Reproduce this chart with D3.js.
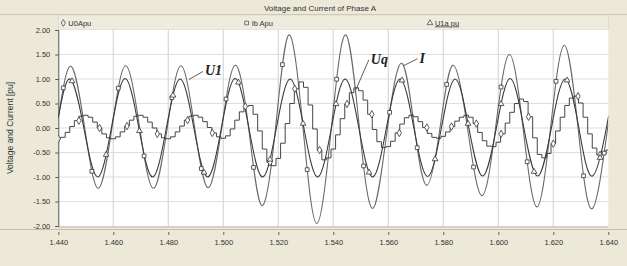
<!DOCTYPE html>
<html><head><meta charset="utf-8">
<script src="https://cdn.jsdelivr.net/npm/d3@7"></script>
<style>
html,body{margin:0;padding:0;background:#ECE9D8;}
svg{display:block;font-family:"Liberation Sans",Arial,sans-serif;}
</style></head>
<body>
<svg id="c" width="627" height="266"></svg>
<script>
// ---------------- data ----------------
const chartTitle = "Voltage and Current of Phase A";
const yAxisTitle = "Voltage and Current [pu]";
const legendLabels = ["U0Apu", "Ib Apu", "U1a pu"];
const legendSymbols = ["diamond", "square", "triangle"];
const xTickValues = [1.44,1.46,1.48,1.50,1.52,1.54,1.56,1.58,1.60,1.62,1.64];
const yTickValues = [2,1.5,1,0.5,0,-0.5,-1,-1.5,-2];

// I (Ib Apu) : time / value at extrema and zero crossings
const iTimes = [1.4400,1.4446,1.4496,1.4545,1.4595,1.4645,1.4696,1.4746,1.4796,1.4846,1.4896,1.4945,1.4994,1.5043,1.5092,1.5140,1.5190,1.5239,1.5290,1.5340,1.5393,1.5445,1.5495,1.5544,1.5597,1.5649,1.5695,1.5740,1.5788,1.5835,1.5888,1.5940,1.5990,1.6040,1.6090,1.6140,1.6190,1.6240,1.6290,1.6340,1.6400];
const iValues = [0.20,1.26,0,-1.23,0,1.27,0,-1.23,0,1.27,0,-1.22,0,1.28,0,-1.58,0,1.90,0,-1.95,0,1.90,0,-1.64,0,1.32,0,-1.17,0,1.28,0,-1.38,0,1.50,0,-1.61,0,1.69,0,-1.65,0.10];

// U1 (U1a pu)
const u1Times = [1.4400,1.4443,1.4493,1.4543,1.4593,1.4643,1.4693,1.4743,1.4793,1.4843,1.4893,1.4943,1.4993,1.5043,1.5093,1.5143,1.5193,1.5243,1.5293,1.5343,1.5393,1.5443,1.5493,1.5543,1.5593,1.5643,1.5693,1.5743,1.5793,1.5843,1.5893,1.5943,1.5993,1.6043,1.6093,1.6143,1.6193,1.6243,1.6293,1.6343,1.6393,1.6400];
const u1Values = [0.22,1.00,0,-1.00,0,1.01,0,-1.00,0,1.00,0,-1.00,0,1.01,0,-1.00,0,1.00,0,-1.00,0,1.00,0,-1.00,0,1.00,0,-0.99,0,1.00,0,-0.98,0,1.01,0,-0.98,0,1.00,0,-0.98,0,0.22];

// Uq (U0Apu) : stepped samples, one every 1/600 s from 1.44 s
const uqStart = 1.44;
const uqStep = 1/600;
const uqValues = [
 -0.22,-0.19,-0.09,0.03,0.15,0.24,0.26,0.22,0.12,0.00,-0.12,-0.20,
 -0.22,-0.18,-0.08,0.04,0.16,0.24,0.26,0.22,0.12,0.00,-0.12,-0.20,
 -0.22,-0.18,-0.08,0.04,0.16,0.24,0.26,0.22,0.13,0.01,-0.10,-0.18,
 -0.21,-0.16,-0.02,0.16,0.33,0.44,0.46,0.28,-0.06,-0.43,-0.70,-0.77,
 -0.62,-0.31,0.09,0.50,0.80,0.94,0.83,0.47,-0.02,-0.45,-0.65,-0.61,
 -0.43,-0.14,0.19,0.49,0.72,0.82,0.76,0.57,0.28,-0.03,-0.28,-0.40,
 -0.38,-0.27,-0.10,0.08,0.21,0.26,0.23,0.13,0.01,-0.11,-0.19,-0.21,
 -0.17,-0.08,0.03,0.14,0.22,0.26,0.22,0.09,-0.09,-0.26,-0.37,-0.38,
 -0.29,-0.12,0.10,0.32,0.50,0.59,0.54,0.23,-0.20,-0.54,-0.61,-0.52,
 -0.32,-0.06,0.22,0.46,0.61,0.65,0.51,0.22,-0.12,-0.41,-0.55,-0.52,
 -0.45];

// marker times for each series
const uqMarkerTimes = [1.4400,1.4475,1.4550,1.4650,1.4760,1.4870,1.4960,1.5080,1.5170,1.5260,1.5350,1.5450,1.5540,1.5640,1.5740,1.5830,1.5920,1.6010,1.6110,1.6200,1.6290,1.6370];
const iMarkerTimes = [1.4418,1.4522,1.4618,1.4712,1.4813,1.4920,1.5010,1.5110,1.5215,1.5305,1.5412,1.5510,1.5605,1.5705,1.5812,1.5910,1.6010,1.6105,1.6210,1.6310,1.6385];
const u1MarkerTimes = [1.4450,1.4574,1.4695,1.4817,1.4930,1.5055,1.5170,1.5290,1.5410,1.5530,1.5650,1.5770,1.5890,1.6010,1.6130,1.6250,1.6370];

// annotations
const annotations = [
  {text:"U1", t:1.4875, v:0.99},
  {text:"Uq", t:1.5482, v:0.78},
  {text:"I",  t:1.5655, v:1.27}
];

// ---------------- drawing ----------------
const W = 627, H = 266;
const L = 58.3, R = 608.3, T = 30, B = 226;
const svg = d3.select("#c");

const x = d3.scaleLinear().domain([1.44,1.64]).range([L,R]);
const y = d3.scaleLinear().domain([-2,2]).range([B,T]);

// background pieces
svg.append("rect").attr("x",0).attr("y",0).attr("width",W).attr("height",H).attr("fill","#ECE9D8");
// title band separator
svg.append("line").attr("x1",0).attr("x2",W).attr("y1",14.5).attr("y2",14.5).attr("stroke","#c9c5b3");
svg.append("text").attr("x",320).attr("y",10.5).attr("text-anchor","middle")
  .attr("font-size",8).attr("fill","#333").text(chartTitle);

// legend bar
const legW = (R-L)/3;
svg.append("rect").attr("x",L).attr("y",15).attr("width",R-L).attr("height",15)
  .attr("fill","#EEECDF").attr("stroke","#d6d2c2").attr("stroke-width",0.6);
const symGen = {diamond:d3.symbolDiamond, square:d3.symbolSquare, triangle:d3.symbolTriangle};
legendLabels.forEach((lab,i)=>{
  const gx = L + i*legW;
  svg.append("path").attr("d", d3.symbol(symGen[legendSymbols[i]], 14)())
    .attr("transform",`translate(${gx+5},${23})`).attr("fill","none").attr("stroke","#444").attr("stroke-width",0.7);
  const t = svg.append("text").attr("x",gx+10).attr("y",25.5).attr("font-size",7.5).attr("fill","#333").text(lab);
  if(i===2) t.attr("text-decoration","underline");
});

// plot area
svg.append("rect").attr("x",L).attr("y",T).attr("width",R-L).attr("height",B-T).attr("fill","#fff");

// grid
svg.append("g").selectAll("line").data(xTickValues.slice(1,-1)).join("line")
  .attr("x1",d=>x(d)).attr("x2",d=>x(d)).attr("y1",T).attr("y2",B)
  .attr("stroke","#d8d8d8").attr("stroke-width",1.2);
svg.append("g").selectAll("line").data(yTickValues.slice(1,-1)).join("line")
  .attr("x1",L).attr("x2",R).attr("y1",d=>y(d)).attr("y2",d=>y(d))
  .attr("stroke","#dedede").attr("stroke-width",1.2);

// bottom separators
svg.append("line").attr("x1",L).attr("x2",R).attr("y1",B+1).attr("y2",B+1).attr("stroke","#c8c8c8").attr("stroke-width",1.5);
svg.append("line").attr("x1",0).attr("x2",W).attr("y1",229.5).attr("y2",229.5).attr("stroke","#d8b8a0").attr("stroke-width",1);

// y axis
const yAxis = d3.axisLeft(y).tickValues(yTickValues).tickFormat(d=>d.toFixed(2)).tickSize(3).tickPadding(5);
const gy = svg.append("g").attr("transform",`translate(${L},0)`).call(yAxis);
gy.select(".domain").attr("stroke","#555");
gy.selectAll(".tick line").attr("stroke","#555");
gy.selectAll("text").attr("font-size",7.5).attr("fill","#333").attr("font-family","Liberation Sans, Arial, sans-serif");

// x axis (labels below separator)
const xAxis = d3.axisBottom(x).tickValues(xTickValues).tickFormat(d=>d.toFixed(3)).tickSize(3).tickPadding(5);
const gx = svg.append("g").attr("transform",`translate(0,232)`).call(xAxis);
gx.select(".domain").remove();
gx.selectAll(".tick line").attr("stroke","#666");
gx.selectAll("text").attr("font-size",7.5).attr("fill","#333").attr("font-family","Liberation Sans, Arial, sans-serif");

// y axis title
svg.append("text").attr("transform",`translate(13,${(T+B)/2}) rotate(-90)`).attr("text-anchor","middle")
  .attr("font-size",8.5).attr("fill","#333").text(yAxisTitle);

// curves
const clip = svg.append("clipPath").attr("id","pc").append("rect").attr("x",L).attr("y",T-2).attr("width",R-L).attr("height",B-T+3);
const plot = svg.append("g").attr("clip-path","url(#pc)");

const lineSmooth = d3.line().x(d=>x(d[0])).y(d=>y(d[1])).curve(d3.curveNatural);
const lineStep = d3.line().x(d=>x(d[0])).y(d=>y(d[1])).curve(d3.curveStep);

const iData = iTimes.map((t,k)=>[t,iValues[k]]);
const u1Data = u1Times.map((t,k)=>[t,u1Values[k]]);
const uqData = uqValues.map((v,k)=>[uqStart+k*uqStep, v]);

const pI = plot.append("path").datum(iData).attr("d",lineSmooth).attr("fill","none").attr("stroke","#6a6a6a").attr("stroke-width",1.1);
const pU1 = plot.append("path").datum(u1Data).attr("d",lineSmooth).attr("fill","none").attr("stroke","#3a3a3a").attr("stroke-width",1.1);
const pUq = plot.append("path").datum(uqData).attr("d",lineStep).attr("fill","none").attr("stroke","#454545").attr("stroke-width",1);

function yOnPath(node, px){
  const len = node.getTotalLength();
  let lo=0, hi=len;
  for(let i=0;i<40;i++){
    const mid=(lo+hi)/2;
    const p=node.getPointAtLength(mid);
    if(p.x<px) lo=mid; else hi=mid;
  }
  return node.getPointAtLength(hi).y;
}
function markers(pathSel, times, sym, size){
  const node = pathSel.node();
  plot.append("g").selectAll("path").data(times).join("path")
    .attr("d", d3.symbol(sym, size)())
    .attr("transform", d=>`translate(${x(d)},${yOnPath(node, x(d))})`)
    .attr("fill","#fff").attr("stroke","#333").attr("stroke-width",0.8);
}
markers(pUq, uqMarkerTimes, d3.symbolDiamond, 16);
markers(pI, iMarkerTimes, d3.symbolSquare, 14);
markers(pU1, u1MarkerTimes, d3.symbolTriangle, 14);

// annotations
const annOffsets = {"U1":[14,-8],"Uq":[13,-30],"I":[14,-7]};
annotations.forEach(a=>{
  const px = x(a.t), py = y(a.v);
  const o = annOffsets[a.text];
  svg.append("line").attr("x1",px).attr("y1",py).attr("x2",px+o[0]).attr("y2",py+o[1])
    .attr("stroke","#333").attr("stroke-width",0.8);
  svg.append("text").attr("x",px+o[0]+2).attr("y",py+o[1]+4)
    .attr("font-family","Liberation Serif, Times New Roman, serif")
    .attr("font-style","italic").attr("font-weight","bold").attr("font-size",14)
    .attr("fill","#222").text(a.text);
});
</script>
</body></html>
